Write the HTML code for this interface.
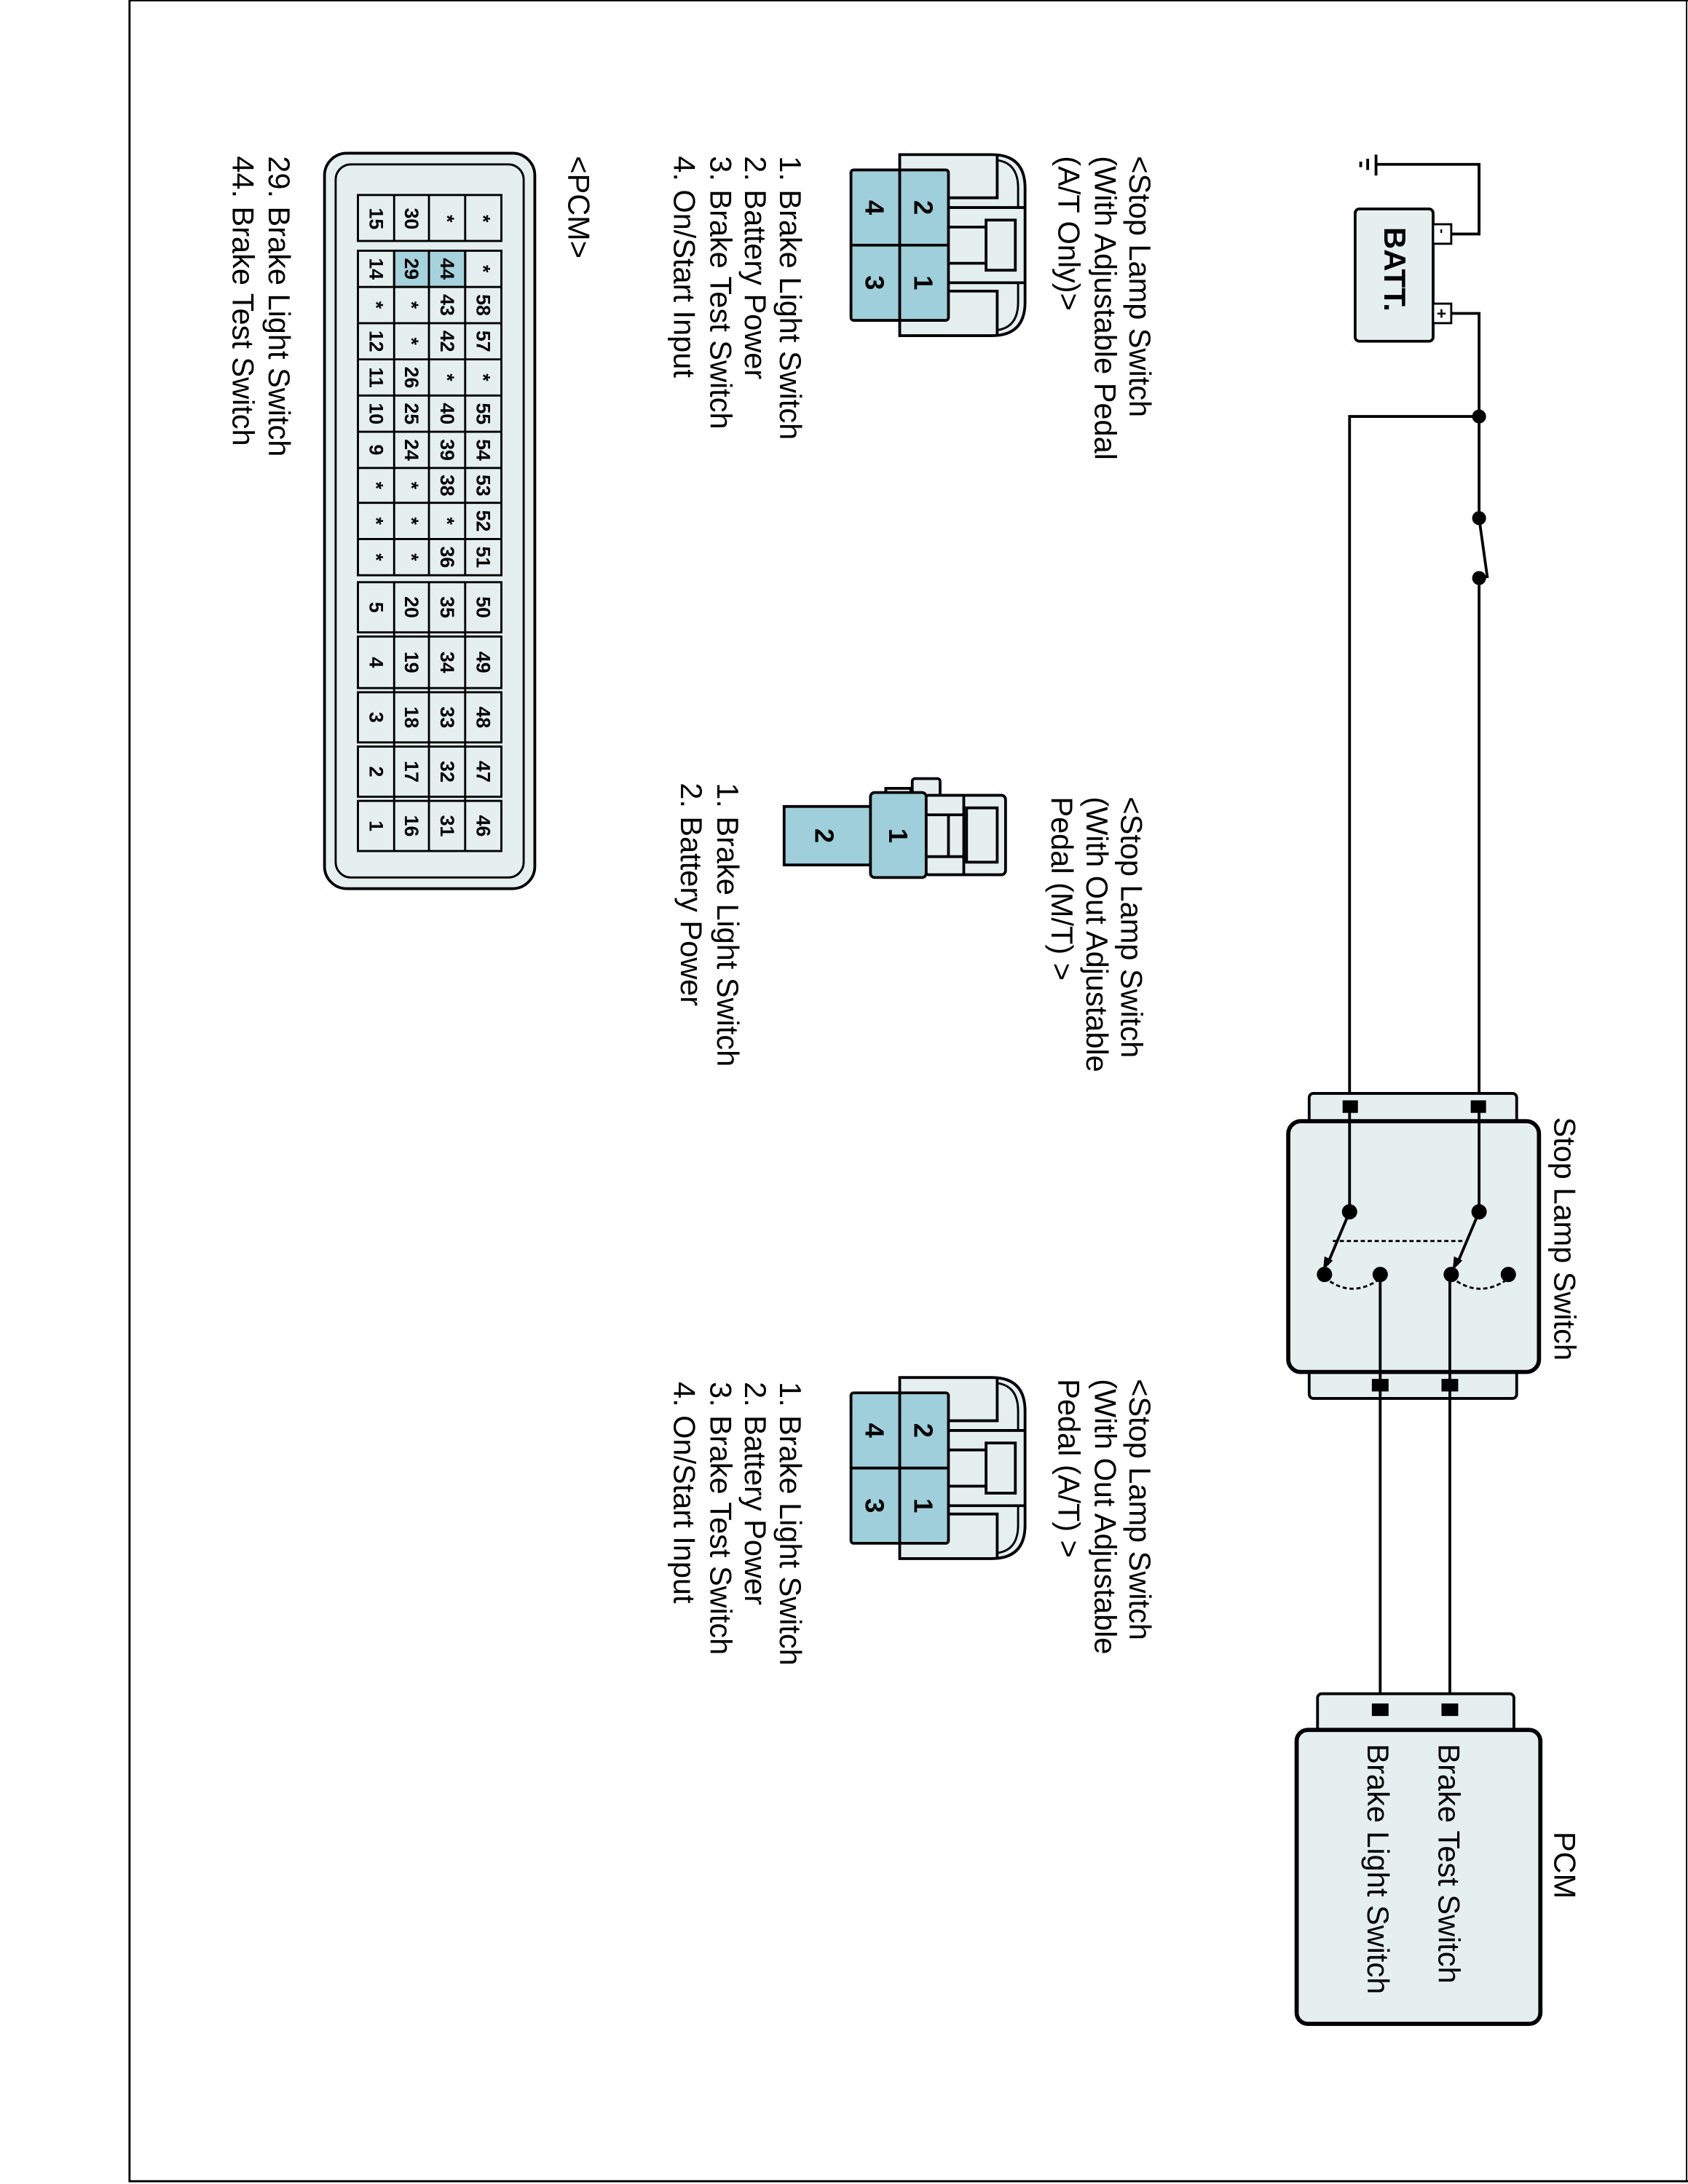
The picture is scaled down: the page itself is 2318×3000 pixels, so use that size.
<!DOCTYPE html>
<html><head><meta charset="utf-8"><style>
html,body{margin:0;padding:0;background:#fff;}
svg{display:block;}
text{font-family:"Liberation Sans",Arial,sans-serif;fill:#000;}
.l{font-size:21.7px;}
.p{font-size:19px;font-weight:bold;}
</style></head><body>
<svg width="2318" height="3000" viewBox="0 0 1212 1568" preserveAspectRatio="none" xmlns="http://www.w3.org/2000/svg">
<rect x="0" y="0" width="1212" height="1568" fill="#fff"/>
<path d="M93 0 V1566 H1212" fill="none" stroke="#000" stroke-width="1.5"/>
<line x1="93" y1="0.5" x2="1212" y2="0.5" stroke="#000" stroke-width="1"/>
<line x1="1211" y1="0" x2="1211" y2="1566" stroke="#000" stroke-width="1"/>

<g stroke="#000" stroke-width="2" fill="none">
<path d="M1062 165 V118 H988"/>
<line x1="988" y1="111" x2="988" y2="126"/>
<line x1="982" y1="114" x2="982" y2="122"/>
<line x1="977" y1="116" x2="977" y2="120"/>
<rect x="973" y="150" width="56" height="95" rx="3" fill="#e6eff0" stroke-width="2"/>
<rect x="1029" y="161" width="13" height="14" fill="#fff" stroke-width="1.5"/>
<rect x="1029" y="218" width="13" height="14" fill="#fff" stroke-width="1.5"/>
<path d="M1042 168 H1062 V118"/>
<path d="M1042 225 H1062 V372"/>
<path d="M1062 299 H969 V795"/>
<line x1="1062" y1="372" x2="1068" y2="415"/>
<path d="M1062 415 V795"/>
<path d="M991 915 V1228"/>
<path d="M1041 915 V1228"/>
</g>
<text x="1033" y="171" font-size="10" font-weight="bold" transform="rotate(90 1035 168)" text-anchor="middle">-</text>
<text x="1035" y="225" font-size="12" font-weight="bold" text-anchor="middle" dominant-baseline="central">+</text>
<text font-weight="bold" font-size="22" transform="translate(994,163) rotate(90)">BATT.</text>
<g fill="#000">
<circle cx="1062" cy="299" r="5"/>
<circle cx="1062" cy="372" r="5"/>
<circle cx="1062" cy="415" r="5"/>
</g>

<rect x="940" y="785" width="149" height="22" rx="3" fill="#e6eff0" stroke="#000" stroke-width="2"/>
<rect x="940" y="982" width="149" height="22" rx="3" fill="#e6eff0" stroke="#000" stroke-width="2"/>
<rect x="925" y="805" width="180" height="180" rx="9" fill="#e6eff0" stroke="#000" stroke-width="3"/>
<g stroke="#000" stroke-width="2" fill="none">
<line x1="969" y1="795" x2="969" y2="870"/>
<line x1="1062" y1="795" x2="1062" y2="870"/>
<line x1="991" y1="915" x2="991" y2="1004"/>
<line x1="1041" y1="915" x2="1041" y2="1004"/>
<line x1="969" y1="870" x2="953" y2="908"/>
<line x1="1062" y1="870" x2="1046" y2="908"/>
<line x1="957" y1="891" x2="1052" y2="891" stroke-dasharray="3,2" stroke-width="1.5"/>
<path d="M951 917 Q970 933 991 918" stroke-dasharray="3,2" stroke-width="1.5"/>
<path d="M1042 917 Q1062 933 1083 918" stroke-dasharray="3,2" stroke-width="1.5"/>
</g>
<g fill="#000">
<polygon points="950,912 951,902 957,905"/>
<polygon points="1043,912 1044,902 1050,905"/>
<circle cx="969" cy="870" r="5.5"/><circle cx="1062" cy="870" r="5.5"/>
<circle cx="951" cy="915" r="5.5"/><circle cx="991" cy="915" r="5.5"/>
<circle cx="1042" cy="915" r="5.5"/><circle cx="1083" cy="915" r="5.5"/>
<rect x="964" y="790" width="11" height="9"/><rect x="1056" y="790" width="11" height="9"/>
<rect x="985" y="990" width="12" height="9"/><rect x="1035" y="990" width="12" height="9"/>
</g>
<text class="l" transform="translate(1116,802) rotate(90)">Stop Lamp Switch</text>

<rect x="946" y="1216" width="141" height="28" rx="3" fill="#e6eff0" stroke="#000" stroke-width="2"/>
<rect x="931" y="1242" width="175" height="211" rx="8" fill="#e6eff0" stroke="#000" stroke-width="3"/>
<g fill="#000"><rect x="985" y="1223" width="12" height="9"/><rect x="1035" y="1223" width="12" height="9"/></g>
<text class="l" transform="translate(1116,1315) rotate(90)">PCM</text>
<text class="l" transform="translate(1033,1252) rotate(90)">Brake Test Switch</text>
<text class="l" transform="translate(982,1252) rotate(90)">Brake Light Switch</text>

<text class="l" transform="translate(811,112) rotate(90)">&lt;Stop Lamp Switch</text>
<text class="l" transform="translate(786,112) rotate(90)">(With Adjustable Pedal</text>
<text class="l" transform="translate(760,112) rotate(90)">(A/T Only)&gt;</text>
<text class="l" transform="translate(560,112) rotate(90)">1. Brake Light Switch</text>
<text class="l" transform="translate(535,112) rotate(90)">2. Battery Power</text>
<text class="l" transform="translate(510,112) rotate(90)">3. Brake Test Switch</text>
<text class="l" transform="translate(484,112) rotate(90)">4. On/Start Input</text>
<text class="l" transform="translate(408,112) rotate(90)">&lt;PCM&gt;</text>
<text class="l" transform="translate(193,112) rotate(90)">29. Brake Light Switch</text>
<text class="l" transform="translate(167,112) rotate(90)">44. Brake Test Switch</text>

<text class="l" transform="translate(805,572) rotate(90)">&lt;Stop Lamp Switch</text>
<text class="l" transform="translate(780,572) rotate(90)">(With Out Adjustable</text>
<text class="l" transform="translate(755,572) rotate(90)">Pedal (M/T) &gt;</text>
<text class="l" transform="translate(515,562) rotate(90)">1. Brake Light Switch</text>
<text class="l" transform="translate(489,562) rotate(90)">2. Battery Power</text>

<text class="l" transform="translate(811,990) rotate(90)">&lt;Stop Lamp Switch</text>
<text class="l" transform="translate(786,990) rotate(90)">(With Out Adjustable</text>
<text class="l" transform="translate(760,990) rotate(90)">Pedal (A/T) &gt;</text>
<text class="l" transform="translate(560,992) rotate(90)">1. Brake Light Switch</text>
<text class="l" transform="translate(535,992) rotate(90)">2. Battery Power</text>
<text class="l" transform="translate(510,992) rotate(90)">3. Brake Test Switch</text>
<text class="l" transform="translate(484,992) rotate(90)">4. On/Start Input</text>

<g>
<path d="M646 111 H712 Q736 111 736 135 V217 Q736 241 712 241 H646 Z" fill="#e6eff0" stroke="#000" stroke-width="2"/>
<path d="M716 115 Q731 117 731 135 V149 M716 237 Q731 235 731 217 V203" fill="none" stroke="#000" stroke-width="1.5"/>
<g fill="none" stroke="#000" stroke-width="2">
<path d="M681 142 H716 V111"/>
<path d="M681 209 H716 V241"/>
<line x1="681" y1="149" x2="736" y2="149"/>
<line x1="681" y1="203" x2="736" y2="203"/>
<line x1="681" y1="163" x2="708" y2="163"/>
<line x1="681" y1="189" x2="708" y2="189"/>
<rect x="708" y="158" width="21" height="36" fill="#e6eff0"/>
</g>
<rect x="611" y="122" width="70" height="108" rx="2" fill="#9fcfdb" stroke="#000" stroke-width="2"/>
<line x1="646" y1="122" x2="646" y2="230" stroke="#000" stroke-width="2"/>
<line x1="611" y1="176" x2="681" y2="176" stroke="#000" stroke-width="2"/>
<text class="p" text-anchor="middle" dominant-baseline="central" transform="translate(663,149) rotate(90)">2</text>
<text class="p" text-anchor="middle" dominant-baseline="central" transform="translate(663,203) rotate(90)">1</text>
<text class="p" text-anchor="middle" dominant-baseline="central" transform="translate(628,149) rotate(90)">4</text>
<text class="p" text-anchor="middle" dominant-baseline="central" transform="translate(628,203) rotate(90)">3</text>
</g>
<g transform="translate(0,878)">
<path d="M646 111 H712 Q736 111 736 135 V217 Q736 241 712 241 H646 Z" fill="#e6eff0" stroke="#000" stroke-width="2"/>
<path d="M716 115 Q731 117 731 135 V149 M716 237 Q731 235 731 217 V203" fill="none" stroke="#000" stroke-width="1.5"/>
<g fill="none" stroke="#000" stroke-width="2">
<path d="M681 142 H716 V111"/>
<path d="M681 209 H716 V241"/>
<line x1="681" y1="149" x2="736" y2="149"/>
<line x1="681" y1="203" x2="736" y2="203"/>
<line x1="681" y1="163" x2="708" y2="163"/>
<line x1="681" y1="189" x2="708" y2="189"/>
<rect x="708" y="158" width="21" height="36" fill="#e6eff0"/>
</g>
<rect x="611" y="122" width="70" height="108" rx="2" fill="#9fcfdb" stroke="#000" stroke-width="2"/>
<line x1="646" y1="122" x2="646" y2="230" stroke="#000" stroke-width="2"/>
<line x1="611" y1="176" x2="681" y2="176" stroke="#000" stroke-width="2"/>
<text class="p" text-anchor="middle" dominant-baseline="central" transform="translate(663,149) rotate(90)">2</text>
<text class="p" text-anchor="middle" dominant-baseline="central" transform="translate(663,203) rotate(90)">1</text>
<text class="p" text-anchor="middle" dominant-baseline="central" transform="translate(628,149) rotate(90)">4</text>
<text class="p" text-anchor="middle" dominant-baseline="central" transform="translate(628,203) rotate(90)">3</text>
</g>

<g stroke="#000" stroke-width="2">
<rect x="655" y="559" width="20" height="14" rx="2" fill="#e6eff0"/>
<rect x="655" y="604" width="20" height="14" rx="2" fill="#e6eff0"/>
<rect x="636" y="566" width="18" height="8" fill="#e6eff0"/>
<rect x="636" y="605" width="18" height="8" fill="#e6eff0"/>
<rect x="664" y="571" width="58" height="57" rx="3" fill="#e6eff0"/>
<line x1="692" y1="571" x2="692" y2="628"/>
<rect x="694" y="580" width="22" height="39" fill="#e6eff0"/>
<line x1="665" y1="585" x2="692" y2="585"/>
<line x1="665" y1="615" x2="692" y2="615"/>
<line x1="681" y1="585" x2="681" y2="615"/>
<rect x="563" y="579" width="63" height="42" fill="#9fcfdb"/>
<rect x="625" y="569" width="40" height="61" rx="3" fill="#9fcfdb"/>
</g>
<text class="p" text-anchor="middle" dominant-baseline="central" transform="translate(645,600) rotate(90)">1</text>
<text class="p" text-anchor="middle" dominant-baseline="central" transform="translate(592,600) rotate(90)">2</text>

<rect x="233" y="110" width="151" height="528" rx="16" fill="#e6eff0" stroke="#000" stroke-width="2"/>
<rect x="241" y="118" width="135" height="512" rx="11" fill="none" stroke="#000" stroke-width="1.5"/>
<g stroke="#000" stroke-width="1.5">
<rect x="257" y="140" width="103" height="33" fill="#e6eff0"/>
<line x1="283" y1="140" x2="283" y2="173"/><line x1="308" y1="140" x2="308" y2="173"/><line x1="334" y1="140" x2="334" y2="173"/>
<rect x="257" y="180" width="103" height="233" fill="#e6eff0"/>
<rect x="283" y="180" width="25" height="26" fill="#a6d2dc"/>
<rect x="308" y="180" width="26" height="26" fill="#a6d2dc"/>
<line x1="283" y1="180" x2="283" y2="413"/><line x1="308" y1="180" x2="308" y2="413"/><line x1="334" y1="180" x2="334" y2="413"/>
<line x1="257" y1="206" x2="360" y2="206"/><line x1="257" y1="232" x2="360" y2="232"/><line x1="257" y1="258" x2="360" y2="258"/>
<line x1="257" y1="284" x2="360" y2="284"/><line x1="257" y1="310" x2="360" y2="310"/><line x1="257" y1="336" x2="360" y2="336"/>
<line x1="257" y1="361" x2="360" y2="361"/><line x1="257" y1="387" x2="360" y2="387"/>
<rect x="257" y="418" width="103" height="36" fill="#e6eff0"/>
<rect x="257" y="457" width="103" height="37" fill="#e6eff0"/>
<rect x="257" y="497" width="103" height="36" fill="#e6eff0"/>
<rect x="257" y="536" width="103" height="36" fill="#e6eff0"/>
<rect x="257" y="575" width="103" height="36" fill="#e6eff0"/>
<line x1="283" y1="418" x2="283" y2="611"/><line x1="308" y1="418" x2="308" y2="611"/><line x1="334" y1="418" x2="334" y2="611"/>
</g>
<g text-anchor="middle" dominant-baseline="central" font-size="14" font-weight="bold">
<text transform="translate(270,157) rotate(90)">15</text><text transform="translate(295.5,157) rotate(90)">30</text><text transform="translate(321,157) rotate(90)">*</text><text transform="translate(347,157) rotate(90)">*</text>
<text transform="translate(270,193) rotate(90)">14</text><text transform="translate(295.5,193) rotate(90)">29</text><text transform="translate(321,193) rotate(90)">44</text><text transform="translate(347,193) rotate(90)">*</text>
<text transform="translate(270,219) rotate(90)">*</text><text transform="translate(295.5,219) rotate(90)">*</text><text transform="translate(321,219) rotate(90)">43</text><text transform="translate(347,219) rotate(90)">58</text>
<text transform="translate(270,245) rotate(90)">12</text><text transform="translate(295.5,245) rotate(90)">*</text><text transform="translate(321,245) rotate(90)">42</text><text transform="translate(347,245) rotate(90)">57</text>
<text transform="translate(270,271) rotate(90)">11</text><text transform="translate(295.5,271) rotate(90)">26</text><text transform="translate(321,271) rotate(90)">*</text><text transform="translate(347,271) rotate(90)">*</text>
<text transform="translate(270,297) rotate(90)">10</text><text transform="translate(295.5,297) rotate(90)">25</text><text transform="translate(321,297) rotate(90)">40</text><text transform="translate(347,297) rotate(90)">55</text>
<text transform="translate(270,323) rotate(90)">9</text><text transform="translate(295.5,323) rotate(90)">24</text><text transform="translate(321,323) rotate(90)">39</text><text transform="translate(347,323) rotate(90)">54</text>
<text transform="translate(270,348.5) rotate(90)">*</text><text transform="translate(295.5,348.5) rotate(90)">*</text><text transform="translate(321,348.5) rotate(90)">38</text><text transform="translate(347,348.5) rotate(90)">53</text>
<text transform="translate(270,374) rotate(90)">*</text><text transform="translate(295.5,374) rotate(90)">*</text><text transform="translate(321,374) rotate(90)">*</text><text transform="translate(347,374) rotate(90)">52</text>
<text transform="translate(270,400) rotate(90)">*</text><text transform="translate(295.5,400) rotate(90)">*</text><text transform="translate(321,400) rotate(90)">36</text><text transform="translate(347,400) rotate(90)">51</text>
<text transform="translate(270,436) rotate(90)">5</text><text transform="translate(295.5,436) rotate(90)">20</text><text transform="translate(321,436) rotate(90)">35</text><text transform="translate(347,436) rotate(90)">50</text>
<text transform="translate(270,475.5) rotate(90)">4</text><text transform="translate(295.5,475.5) rotate(90)">19</text><text transform="translate(321,475.5) rotate(90)">34</text><text transform="translate(347,475.5) rotate(90)">49</text>
<text transform="translate(270,515) rotate(90)">3</text><text transform="translate(295.5,515) rotate(90)">18</text><text transform="translate(321,515) rotate(90)">33</text><text transform="translate(347,515) rotate(90)">48</text>
<text transform="translate(270,554) rotate(90)">2</text><text transform="translate(295.5,554) rotate(90)">17</text><text transform="translate(321,554) rotate(90)">32</text><text transform="translate(347,554) rotate(90)">47</text>
<text transform="translate(270,593) rotate(90)">1</text><text transform="translate(295.5,593) rotate(90)">16</text><text transform="translate(321,593) rotate(90)">31</text><text transform="translate(347,593) rotate(90)">46</text>
</g>
</svg>
</body></html>
